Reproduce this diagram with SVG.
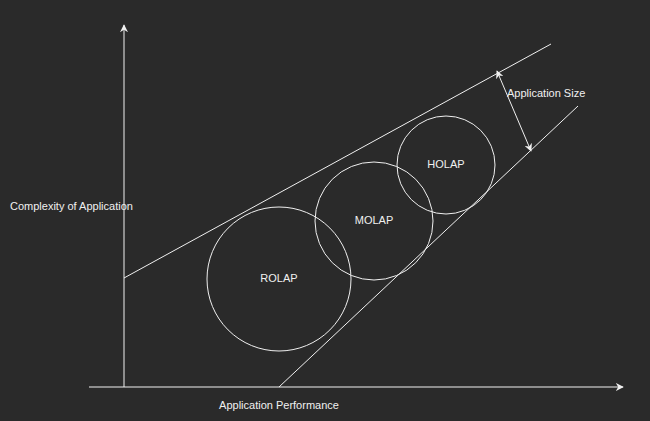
<svg xmlns="http://www.w3.org/2000/svg" width="650" height="421" viewBox="0 0 650 421">
<style>
.ln{stroke:#f0f0f0;stroke-width:1;fill:none}
.c{stroke:#f0f0f0;stroke-width:1;fill:none}
text{font-family:"Liberation Sans",Arial,sans-serif;font-size:11px;fill:#f0f0f0}
</style>
<defs>
<marker id="ah" viewBox="0 0 10 10" refX="9" refY="5" markerWidth="8" markerHeight="8" orient="auto-start-reverse" markerUnits="userSpaceOnUse">
<path d="M0,0 L10,5 L0,10 L3,5 Z" fill="#f0f0f0"/>
</marker>
</defs>
<rect width="650" height="421" fill="#2a2a2a"/>
<g id="connectors">
<line class="ln" x1="124" y1="387" x2="124" y2="25" marker-end="url(#ah)"/>
<line class="ln" x1="89" y1="387" x2="623" y2="387" marker-end="url(#ah)"/>
<line class="ln" x1="124" y1="278" x2="551" y2="44"/>
<line class="ln" x1="279" y1="387" x2="578" y2="106"/>
<line class="ln" x1="497" y1="71" x2="531" y2="151" marker-start="url(#ah)" marker-end="url(#ah)"/>
</g>
<g id="rolap">
<circle class="c" cx="279" cy="279" r="72"/>
<text x="279" y="282" text-anchor="middle">ROLAP</text>
</g>
<g id="molap">
<circle class="c" cx="374" cy="221" r="59"/>
<text x="374" y="224" text-anchor="middle">MOLAP</text>
</g>
<g id="holap">
<circle class="c" cx="446" cy="165" r="49"/>
<text x="446" y="168" text-anchor="middle">HOLAP</text>
</g>
<g id="labels">
<text x="507" y="97">Application Size</text>
<text x="10" y="210">Complexity of Application</text>
<text x="279" y="409" text-anchor="middle">Application Performance</text>
</g>
</svg>
